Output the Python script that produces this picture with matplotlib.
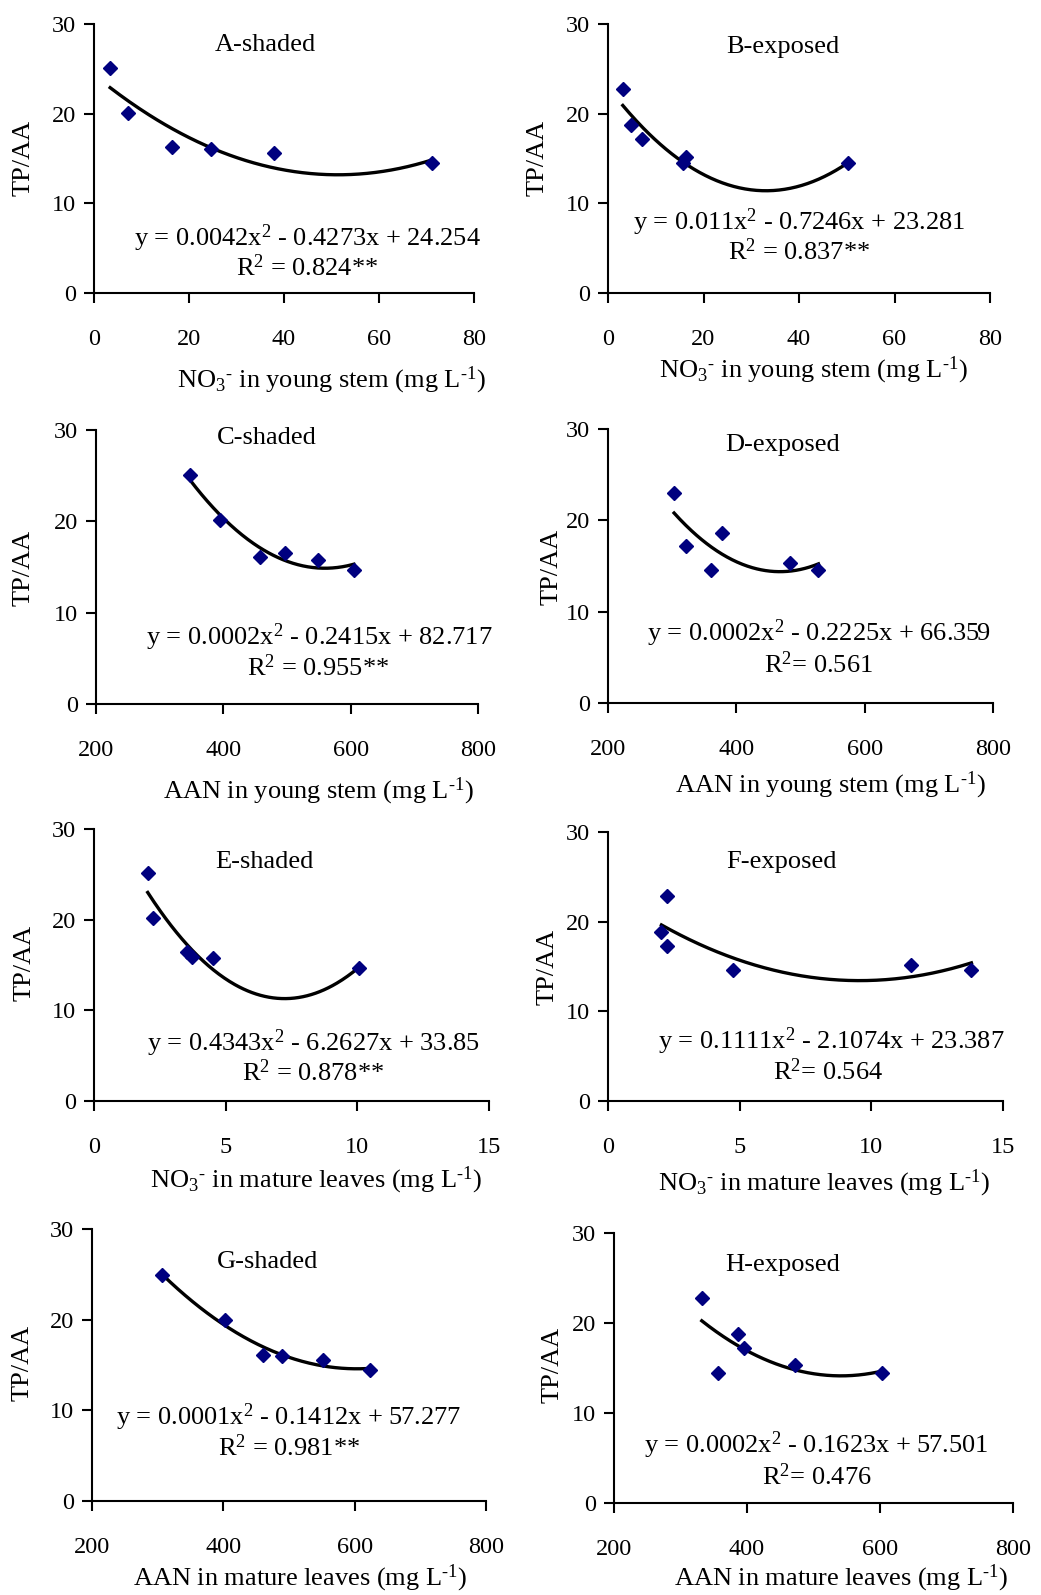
import numpy as np
import matplotlib
matplotlib.use("Agg")
import matplotlib.pyplot as plt

plt.rcParams['font.family'] = ['Liberation Serif', 'DejaVu Serif']
plt.rcParams['mathtext.fontset'] = 'custom'
plt.rcParams['mathtext.rm'] = 'Liberation Serif'
plt.rcParams['mathtext.it'] = 'Liberation Serif:italic'
plt.rcParams['mathtext.bf'] = 'Liberation Serif:bold'

W, H = 1041, 1595

# ---------------- data ----------------
titles = ["A-shaded", "B-exposed", "C-shaded", "D-exposed",
          "E-shaded", "F-exposed", "G-shaded", "H-exposed"]

xA = [3.4, 7.1, 16.4, 24.6, 37.8, 71.1]
yA = [25.1, 20.1, 16.3, 16.1, 15.6, 14.5]
xB = [3.1, 4.9, 7.1, 15.7, 16.3, 50.3]
yB = [22.7, 18.7, 17.2, 14.5, 15.2, 14.5]
xC = [348, 394, 457, 497, 548, 605]
yC = [25.1, 20.1, 16.1, 16.5, 15.8, 14.7]
xD = [303, 322, 360, 378, 484, 528]
yD = [23.0, 17.2, 14.6, 18.6, 15.3, 14.6]
xE = [2.04, 2.25, 3.55, 3.74, 4.53, 10.07]
yE = [25.1, 20.2, 16.4, 15.9, 15.8, 14.7]
xF = [2.03, 2.25, 2.25, 4.75, 11.52, 13.8]
yF = [18.8, 22.9, 17.3, 14.6, 15.2, 14.6]
xG = [307, 402, 461, 489, 552, 623]
yG = [24.9, 20.0, 16.1, 16.0, 15.6, 14.4]
xH = [332, 357, 387, 396, 472, 603]
yH = [22.8, 14.5, 18.8, 17.2, 15.3, 14.5]

equations = [
    "y = 0.0042x$^2$ - 0.4273x + 24.254",
    "y = 0.011x$^2$ - 0.7246x + 23.281",
    "y = 0.0002x$^2$ - 0.2415x + 82.717",
    "y = 0.0002x$^2$ - 0.2225x + 66.359",
    "y = 0.4343x$^2$ - 6.2627x + 33.85",
    "y = 0.1111x$^2$ - 2.1074x + 23.387",
    "y = 0.0001x$^2$ - 0.1412x + 57.277",
    "y = 0.0002x$^2$ - 0.1623x + 57.501",
]
r2_texts = [
    "R$^2$ = 0.824**", "R$^2$ = 0.837**", "R$^2$ = 0.955**", "R$^2$= 0.561",
    "R$^2$ = 0.878**", "R$^2$= 0.564", "R$^2$ = 0.981**", "R$^2$= 0.476",
]
NO3 = r"NO$_3$$^{\text{-}}$"
UNIT = r"(mg L$^{\text{-}1}$)"
xlabels = [
    NO3 + " in young stem " + UNIT,
    NO3 + " in young stem " + UNIT,
    "AAN in young stem " + UNIT,
    "AAN in young stem " + UNIT,
    NO3 + " in mature leaves " + UNIT,
    NO3 + " in mature leaves " + UNIT,
    "AAN in mature leaves " + UNIT,
    "AAN in mature leaves " + UNIT,
]
xticks_sets = [
    [0, 20, 40, 60, 80], [0, 20, 40, 60, 80],
    [200, 400, 600, 800], [200, 400, 600, 800],
    [0, 5, 10, 15], [0, 5, 10, 15],
    [200, 400, 600, 800], [200, 400, 600, 800],
]
yticks = [0, 10, 20, 30]
ylabel = "TP/AA"

xs = [xA, xB, xC, xD, xE, xF, xG, xH]
ys = [yA, yB, yC, yD, yE, yF, yG, yH]

# ---------------- layout (pixels) ----------------
boxes = [
    (94, 474, 24, 293), (608, 990, 24, 293),
    (96, 478, 430, 704), (608, 993, 429, 703),
    (94, 489, 829, 1101), (608, 1003, 832, 1101),
    (92, 486, 1229, 1501), (614, 1013, 1233, 1503),
]
title_pos = [(265, 45), (783, 47), (267, 438), (783, 445),
             (264, 862), (781, 862), (268, 1262), (783, 1265)]
eq_pos = [(307, 238), (799, 222), (319, 637), (819, 633),
          (314, 1043), (831, 1041), (288, 1417), (816, 1445)]
r2_pos = [(307, 268), (799, 252), (318, 668), (818, 665),
          (313, 1073), (828, 1072), (289, 1448), (817, 1477)]
xlab_pos = [(331, 380), (813, 370), (318, 791), (830, 785),
            (316, 1180), (824, 1183), (300, 1578), (841, 1578)]
ylab_pos = [(24, 158), (538, 158), (24, 568), (552, 567),
            (25, 963), (548, 967), (23, 1363), (553, 1365)]

fig = plt.figure(figsize=(W / 100, H / 100), dpi=100)

def fp(x, y):
    return x / W, 1 - y / H

FS_TXT = 19
FS_TICK = 17.5

for i in range(8):
    L, R, T, B = boxes[i]
    ax = fig.add_axes([L / W, 1 - B / H, (R - L) / W, (B - T) / H])
    xt = xticks_sets[i]
    ax.set_xlim(xt[0], xt[-1])
    ax.set_ylim(0, 30)
    ax.set_xticks(xt)
    ax.set_yticks(yticks)
    for s in ("top", "right"):
        ax.spines[s].set_visible(False)
    for s in ("left", "bottom"):
        ax.spines[s].set_linewidth(1.5)
    ax.tick_params(axis="both", direction="out", length=7, width=1.5,
                   labelsize=FS_TICK)
    ax.tick_params(axis="x", pad=19)
    ax.tick_params(axis="y", pad=6)
    ax.patch.set_alpha(0)

    x = np.array(xs[i], dtype=float)
    y = np.array(ys[i], dtype=float)
    coef = np.polyfit(x, y, 2)
    xx = np.linspace(x.min(), x.max(), 200)
    ax.plot(xx, np.polyval(coef, xx), color="black", lw=2.4, zorder=2)
    ax.plot(x, y, linestyle="none", marker="D", ms=7.3, color="#00007f",
            zorder=3, clip_on=False)

    fig.text(*fp(*title_pos[i]), titles[i], ha="center", va="center",
             fontsize=FS_TXT)
    fig.text(*fp(*eq_pos[i]), equations[i], ha="center", va="center",
             fontsize=FS_TXT)
    fig.text(*fp(*r2_pos[i]), r2_texts[i], ha="center", va="center",
             fontsize=FS_TXT)
    fig.text(*fp(*xlab_pos[i]), xlabels[i], ha="center", va="center",
             fontsize=FS_TXT)
    fig.text(*fp(*ylab_pos[i]), ylabel, ha="center", va="center",
             rotation=90, fontsize=FS_TXT)

fig.savefig("out.png", dpi=100, facecolor="white")
